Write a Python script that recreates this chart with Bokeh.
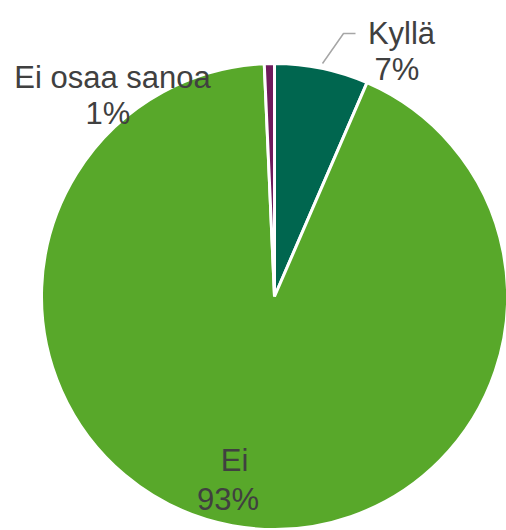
import numpy as np
from bokeh.plotting import figure
from bokeh.models import Range1d, ColumnDataSource
from bokeh.core.properties import value
from bokeh.embed import file_html
from bokeh.resources import INLINE

# ---- data ----
categories = ["Kyllä", "Ei", "Ei osaa sanoa"]
shares = [6.5, 92.8, 0.7]
share_labels = ["7%", "93%", "1%"]

# ---- styles / layout ----
palette = ["#00664F", "#58A82A", "#6E1A5C"]
W, H = 506, 530
cx, cy, R = 274, 234, 233
text_color = "#404040"
font = value("Liberation Sans")
fsize = "31px"

vals = np.array(shares, dtype=float)
frac = vals / vals.sum()
cum_end = np.cumsum(frac)
cum_start = cum_end - frac
start = np.pi / 2 - 2 * np.pi * cum_start
end = np.pi / 2 - 2 * np.pi * cum_end

p = figure(width=W, height=H, output_backend="svg", toolbar_location=None,
           x_axis_location=None, y_axis_location=None, min_border=0,
           x_range=Range1d(0, W), y_range=Range1d(0, H))
p.grid.visible = False
p.outline_line_color = None
p.background_fill_color = "white"
p.border_fill_color = "white"

src = ColumnDataSource(dict(start=start, end=end, color=palette, cat=categories))
p.wedge(x=cx, y=cy, radius=R, start_angle="start", end_angle="end",
        direction="clock", fill_color="color", line_color="white",
        line_width=3, source=src)

# leader line for Kyllä
p.line(x=[322, 343, 355], y=[467, 497, 497], line_color="#A6A6A6", line_width=1.5)

# label positions: (name x, name y, pct x, pct y)
label_pos = [(401, 497.5, 396.5, 461.5), (234, 70, 227.5, 31.5), (112, 453.5, 107.5, 417.5)]
for i, (nx, ny, px_, py) in enumerate(label_pos):
    p.text(x=[nx], y=[ny], text=[categories[i]], text_align="center",
           text_baseline="alphabetic", text_font=font, text_font_size=fsize,
           text_color=text_color)
    p.text(x=[px_], y=[py], text=[share_labels[i]], text_align="center",
           text_baseline="alphabetic", text_font=font, text_font_size=fsize,
           text_color=text_color)

open("out.html", "w").write(file_html(p, INLINE))
